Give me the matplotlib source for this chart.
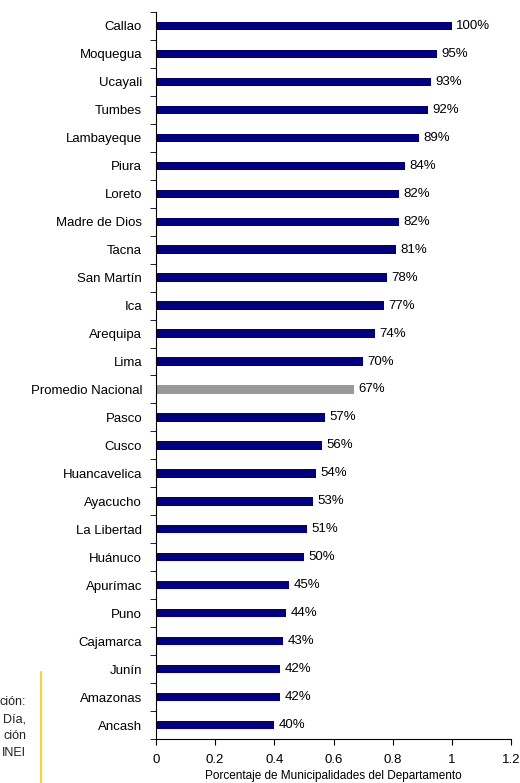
import matplotlib.pyplot as plt
import numpy as np

plt.rcParams['font.family'] = ['Liberation Sans', 'DejaVu Sans']

departamentos = ["Callao", "Moquegua", "Ucayali", "Tumbes", "Lambayeque", "Piura",
                 "Loreto", "Madre de Dios", "Tacna", "San Martín", "Ica", "Arequipa",
                 "Lima", "Promedio Nacional", "Pasco", "Cusco", "Huancavelica",
                 "Ayacucho", "La Libertad", "Huánuco", "Apurímac", "Puno",
                 "Cajamarca", "Junín", "Amazonas", "Ancash"]
porcentajes = [100, 95, 93, 92, 89, 84, 82, 82, 81, 78, 77, 74, 70, 67,
               57, 56, 54, 53, 51, 50, 45, 44, 43, 42, 42, 40]
nota = ["ción:", "Día,", "ción", "INEI"]

fig = plt.figure(figsize=(5.2, 7.83), dpi=100)
ax = fig.add_axes([156 / 520, 1 - 739 / 783, (511 - 156) / 520, (739 - 12) / 783])

y = np.arange(len(departamentos))
vals = np.array(porcentajes) / 100
colores = ['#999999' if d == "Promedio Nacional" else '#000080' for d in departamentos]
ax.barh(y, vals, height=0.3, color=colores)

for yi, v, p in zip(y, vals, porcentajes):
    ax.text(v + 0.015, yi, f"{p}%", va='center', ha='left', fontsize=9.5)

ax.set_ylim(len(departamentos) - 0.5, -0.5)
ax.set_xlim(0, 1.2)
ax.set_xticks([0, 0.2, 0.4, 0.6, 0.8, 1, 1.2])
ax.set_xticklabels(["0", "0.2", "0.4", "0.6", "0.8", "1", "1.2"], fontsize=9.5)
ax.set_yticks(y)
ax.set_yticklabels(departamentos, fontsize=9.5)
ax.tick_params(axis='y', length=0, pad=10)
ax.set_yticks(np.arange(len(departamentos) + 1) - 0.5, minor=True)
ax.tick_params(axis='y', which='minor', length=4, direction='out')
ax.tick_params(axis='x', length=4, direction='out', pad=6.5)
ax.set_xlabel("Porcentaje de Municipalidades del Departamento", fontsize=8.5, labelpad=3)

for s in ['top', 'right']:
    ax.spines[s].set_visible(False)

# texto cortado a la izquierda y linea amarilla
for i, t in enumerate(nota):
    fig.text(26 / 520, 1 - (702 + 17 * i) / 783, t, ha='right', va='center',
             fontsize=9, color='#222222')
fig.add_artist(plt.Line2D([41 / 520, 41 / 520], [0, 1 - 672 / 783],
                          color='#FFCC00', linewidth=1.2))

fig.savefig("out.png", dpi=100)
